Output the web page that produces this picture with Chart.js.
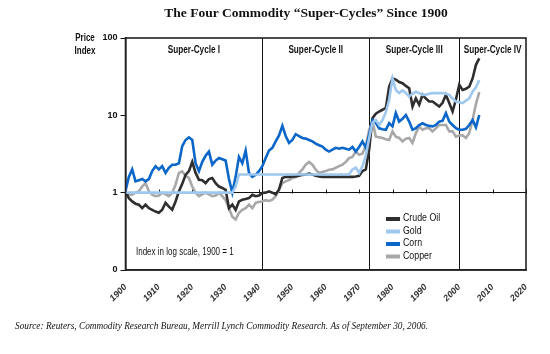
<!DOCTYPE html>
<html>
<head>
<meta charset="utf-8">
<script src="https://cdn.jsdelivr.net/npm/chart.js@4.4.1/dist/chart.umd.min.js"></script>
<style>
  body { margin: 0; background: #fff; }
  canvas { display: block; }
</style>
</head>
<body>
<canvas id="cycleChart" width="550" height="354"></canvas>
<script>
// yearly index values, 1900 = 1
const years = [
  1900, 1901, 1902, 1903, 1904, 1905, 1906, 1907, 1908, 1909,
  1910, 1911, 1912, 1913, 1914, 1915, 1916, 1917, 1918, 1919,
  1920, 1921, 1922, 1923, 1924, 1925, 1926, 1927, 1928, 1929,
  1930, 1931, 1932, 1933, 1934, 1935, 1936, 1937, 1938, 1939,
  1940, 1941, 1942, 1943, 1944, 1945, 1946, 1947, 1948, 1949,
  1950, 1951, 1952, 1953, 1954, 1955, 1956, 1957, 1958, 1959,
  1960, 1961, 1962, 1963, 1964, 1965, 1966, 1967, 1968, 1969,
  1970, 1971, 1972, 1973, 1974, 1975, 1976, 1977, 1978, 1979,
  1980, 1981, 1982, 1983, 1984, 1985, 1986, 1987, 1988, 1989,
  1990, 1991, 1992, 1993, 1994, 1995, 1996, 1997, 1998, 1999,
  2000, 2001, 2002, 2003, 2004, 2005, 2006
];

const crudeOil = [
  1.04, 0.85, 0.77, 0.72, 0.70, 0.63, 0.70, 0.63, 0.60, 0.57,
  0.55, 0.60, 0.74, 0.66, 0.60, 0.77, 1.04, 1.30, 1.70, 1.90,
  2.50, 1.80, 1.47, 1.45, 1.33, 1.50, 1.55, 1.33, 1.20, 1.15,
  1.09, 0.63, 0.70, 0.60, 0.77, 0.81, 0.83, 0.85, 0.94, 0.90,
  0.92, 0.99, 1.00, 1.04, 1.00, 0.95, 1.10, 1.55, 1.60, 1.60,
  1.62, 1.62, 1.65, 1.70, 1.72, 1.76, 1.72, 1.65, 1.62, 1.60,
  1.60, 1.60, 1.60, 1.60, 1.60, 1.60, 1.60, 1.60, 1.60, 1.62,
  1.65, 1.90, 2.00, 3.60, 9.20, 10.5, 11.2, 11.8, 12.5, 23.5,
  30.0, 29.0, 27.0, 26.0, 24.0, 22.4, 13.0, 16.6, 13.7, 18.4,
  16.5, 15.1, 15.1, 14.0, 13.0, 14.5, 18.4, 14.4, 11.2, 16.0,
  24.8, 21.3, 22.0, 23.5, 30.0, 45.0, 54.6
];

const gold = [
  1.00, 1.00, 1.00, 1.00, 1.00, 1.00, 1.00, 1.00, 1.00, 1.00,
  1.00, 1.00, 1.00, 1.00, 1.00, 1.00, 1.00, 1.00, 1.00, 1.00,
  1.00, 1.00, 1.00, 1.00, 1.00, 1.00, 1.00, 1.00, 1.00, 1.00,
  1.00, 1.00, 1.00, 1.20, 1.72, 1.72, 1.72, 1.72, 1.72, 1.72,
  1.72, 1.72, 1.72, 1.72, 1.72, 1.72, 1.72, 1.72, 1.72, 1.72,
  1.72, 1.72, 1.72, 1.72, 1.72, 1.72, 1.72, 1.72, 1.72, 1.72,
  1.72, 1.72, 1.72, 1.72, 1.72, 1.72, 1.72, 1.72, 2.00, 2.10,
  1.80, 2.20, 3.00, 5.00, 8.00, 8.70, 7.50, 8.70, 11.0, 16.0,
  30.0, 21.3, 19.4, 21.0, 19.5, 17.5, 19.0, 20.2, 19.4, 18.4,
  18.5, 19.0, 19.4, 19.4, 19.4, 19.4, 19.0, 18.4, 16.5, 15.1,
  14.8, 14.4, 15.5, 16.6, 20.2, 23.0, 28.7
];

const corn = [
  1.05, 1.60, 2.00, 1.40, 1.45, 1.50, 1.40, 1.50, 1.90, 2.20,
  2.00, 2.20, 1.80, 2.10, 2.30, 2.30, 2.40, 4.00, 4.80, 5.20,
  4.80, 2.40, 1.90, 2.50, 3.00, 3.40, 2.30, 2.60, 2.80, 2.70,
  2.60, 1.50, 1.00, 1.60, 2.90, 2.40, 3.50, 1.80, 1.60, 1.70,
  1.90, 2.20, 2.80, 3.50, 3.80, 4.60, 5.50, 7.30, 5.40, 4.40,
  4.80, 5.70, 5.40, 5.10, 5.00, 4.80, 4.60, 4.30, 4.10, 3.95,
  3.60, 3.40, 3.60, 3.80, 3.70, 3.80, 3.70, 3.60, 3.90, 3.40,
  3.90, 4.60, 3.80, 5.60, 8.70, 8.00, 6.80, 6.60, 6.50, 7.90,
  7.20, 10.7, 8.30, 9.00, 10.1, 8.30, 6.50, 6.80, 7.50, 7.90,
  7.50, 7.30, 7.20, 7.50, 8.30, 8.50, 10.7, 8.30, 7.50, 6.80,
  6.50, 6.50, 6.70, 7.50, 8.70, 7.00, 10.1
];

const copper = [
  1.00, 0.95, 0.94, 1.00, 1.04, 1.20, 1.33, 1.04, 0.94, 0.90,
  0.92, 1.00, 0.95, 0.90, 1.00, 1.27, 1.80, 1.88, 1.65, 1.55,
  1.20, 1.00, 0.90, 0.95, 1.00, 0.95, 0.90, 0.92, 1.00, 0.90,
  0.80, 0.63, 0.49, 0.45, 0.55, 0.60, 0.63, 0.70, 0.63, 0.74,
  0.76, 0.77, 0.80, 0.78, 0.81, 0.90, 1.09, 1.33, 1.40, 1.45,
  1.55, 1.60, 1.80, 2.00, 2.30, 2.50, 2.30, 1.98, 1.80, 1.85,
  1.90, 1.98, 2.00, 2.10, 2.20, 2.30, 2.50, 2.80, 2.90, 3.40,
  3.10, 3.20, 4.00, 6.50, 8.30, 5.30, 5.20, 5.10, 4.90, 4.80,
  6.20, 5.30, 5.10, 4.60, 5.00, 5.10, 4.40, 5.90, 7.20, 6.50,
  6.80, 6.80, 6.20, 6.80, 7.50, 7.50, 7.50, 6.20, 6.20, 5.30,
  5.50, 5.50, 5.10, 5.90, 8.70, 14.0, 20.0
];

const yTicks = [0.1, 1, 10, 100];
const cycleBounds = [1900, 1941, 1973, 2000, 2020];
const cycleNames = ['Super-Cycle I', 'Super-Cycle II', 'Super-Cycle III', 'Super-Cycle IV'];

const SANS = "'Liberation Sans', Arial, sans-serif";
const SERIF = "'Liberation Serif', 'Times New Roman', serif";

function pairs(values) {
  return values.map((v, i) => ({ x: years[i], y: v }));
}

// no narrow face installed, so squeeze the regular one
function narrowText(ctx, text, x, y, squeeze) {
  ctx.save();
  ctx.translate(x, y);
  ctx.scale(squeeze, 1);
  ctx.fillText(text, 0, 0);
  ctx.restore();
}

const decor = {
  id: 'decor',
  beforeDatasetsDraw(chart) {
    const { ctx, chartArea: a, scales: { x, y } } = chart;
    ctx.save();
    ctx.strokeStyle = '#111';
    ctx.lineWidth = 1;
    cycleBounds.slice(1, -1).forEach(yr => {
      const px = Math.round(x.getPixelForValue(yr)) + 0.5;
      ctx.beginPath();
      ctx.moveTo(px, a.top);
      ctx.lineTo(px, a.bottom);
      ctx.stroke();
    });
    // small ticks sitting on the index = 1 line
    const py = Math.round(y.getPixelForValue(1)) + 0.5;
    x.ticks.forEach(t => {
      const px = Math.round(x.getPixelForValue(t.value)) + 0.5;
      ctx.beginPath();
      ctx.moveTo(px, py);
      ctx.lineTo(px, py - 4);
      ctx.stroke();
    });
    ctx.restore();
  },
  afterDraw(chart) {
    const { ctx, chartArea: a, scales: { x } } = chart;
    ctx.save();
    // frame
    ctx.strokeStyle = '#222';
    ctx.lineWidth = 1.6;
    ctx.strokeRect(a.left, a.top, a.right - a.left, a.bottom - a.top);

    // title
    ctx.fillStyle = '#111';
    ctx.textAlign = 'center';
    ctx.textBaseline = 'middle';
    ctx.font = 'bold 13.5px ' + SERIF;
    ctx.fillText('The Four Commodity \u201cSuper-Cycles\u201d Since 1900', 306, 14);

    // axis title
    ctx.font = 'bold 10px ' + SANS;
    narrowText(ctx, 'Price', 85, 38, 0.8);
    narrowText(ctx, 'Index', 85, 51, 0.8);

    // cycle names
    cycleNames.forEach((name, i) => {
      const mid = (cycleBounds[i] + cycleBounds[i + 1]) / 2;
      narrowText(ctx, name, x.getPixelForValue(mid), 50, 0.82);
    });

    // note
    ctx.textAlign = 'left';
    ctx.font = '10px ' + SANS;
    narrowText(ctx, 'Index in log scale, 1900 = 1', 136, 252, 0.8);

    // legend
    const lx = 386, ly = 218, step = 12.5;
    chart.data.datasets.forEach((ds, i) => {
      const yy = ly + i * step;
      ctx.strokeStyle = ds.borderColor;
      ctx.lineWidth = 4;
      ctx.beginPath();
      ctx.moveTo(lx, yy + 1);
      ctx.lineTo(lx + 14, yy + 1);
      ctx.stroke();
      ctx.fillStyle = '#111';
      ctx.font = '11px ' + SANS;
      narrowText(ctx, ds.label, lx + 17, yy, 0.8);
    });

    // source line
    ctx.font = 'italic 9.3px ' + SERIF;
    ctx.fillStyle = '#111';
    ctx.fillText('Source: Reuters, Commodity Research Bureau, Merrill Lynch Commodity Research. As of September 30, 2006.', 15, 327);
    ctx.restore();
  }
};

new Chart(document.getElementById('cycleChart').getContext('2d'), {
  type: 'line',
  data: {
    datasets: [{
      label: 'Crude Oil',
      data: pairs(crudeOil),
      borderColor: '#2e2e2e',
      order: 2
    }, {
      label: 'Gold',
      data: pairs(gold),
      borderColor: '#9fc8ef',
      order: 0
    }, {
      label: 'Corn',
      data: pairs(corn),
      borderColor: '#0a66c8',
      order: 1
    }, {
      label: 'Copper',
      data: pairs(copper),
      borderColor: '#a8a8a8',
      order: 3
    }]
  },
  options: {
    responsive: false,
    animation: false,
    elements: {
      line: { borderWidth: 2.6, tension: 0, fill: false },
      point: { radius: 0 }
    },
    layout: { padding: { left: 0, top: 38, right: 24, bottom: 0 } },
    plugins: {
      legend: { display: false },
      tooltip: { enabled: false },
      title: { display: false }
    },
    scales: {
      x: {
        type: 'linear',
        min: 1900,
        max: 2020,
        afterFit(scale) { scale.height = 84; },
        ticks: {
          stepSize: 10,
          minRotation: 45,
          maxRotation: 45,
          padding: 4,
          color: '#333',
          font: { family: SANS, size: 9, weight: 'bold', style: 'italic' },
          callback: v => String(v)
        },
        grid: { display: false },
        border: { display: true, color: '#222', width: 1.6 }
      },
      y: {
        type: 'logarithmic',
        min: 0.1,
        max: 100,
        afterFit(scale) { scale.width = 125.5; },
        afterBuildTicks(scale) { scale.ticks = yTicks.map(v => ({ value: v })); },
        ticks: {
          padding: 3,
          color: '#111',
          font: { family: SANS, size: 9, weight: 'bold' },
          callback: v => (v === 0.1 ? '0' : String(v))
        },
        grid: {
          color: c => (c.tick && c.tick.value === 1 ? '#111' : 'rgba(0,0,0,0)'),
          tickColor: '#111',
          tickLength: 5,
          lineWidth: 1
        },
        border: { display: true, color: '#222', width: 1.6 }
      }
    }
  },
  plugins: [decor]
});
</script>
</body>
</html>
